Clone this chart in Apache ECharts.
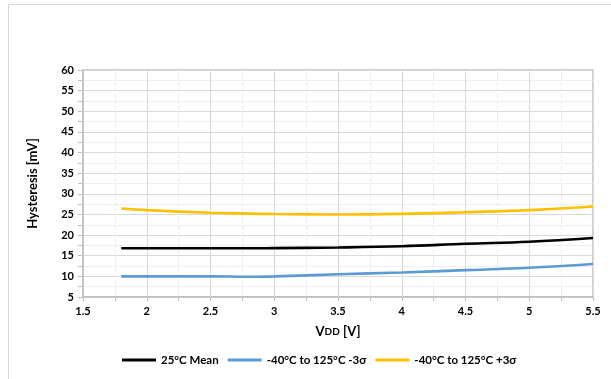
<!DOCTYPE html>
<html>
<head>
<meta charset="utf-8">
<script src="https://cdn.jsdelivr.net/npm/echarts@6/dist/echarts.min.js"></script>
<style>
  html, body { margin: 0; padding: 0; background: #fff; }
  #main { width: 611px; height: 379px; }
</style>
</head>
<body>
<div id="main"></div>
<script>
// x values (VDD, V)
var vdd = [1.8, 2, 2.5, 2.8, 3, 3.5, 4, 4.5, 5, 5.5];
// hysteresis (mV)
var mean25 = [16.8, 16.8, 16.8, 16.8, 16.85, 17.0, 17.3, 17.9, 18.4, 19.3];
var minus3s = [10.0, 10.0, 10.0, 9.9, 10.0, 10.5, 10.95, 11.5, 12.1, 13.0];
var plus3s = [26.45, 26.05, 25.4, 25.2, 25.1, 25.0, 25.15, 25.55, 26.05, 27.0];
var seriesNames = ['25°C Mean', '-40°C to 125°C -3σ', '-40°C to 125°C +3σ'];
var seriesColors = ['#000000', '#5B9BD5', '#FFC000'];

var myChart = echarts.init(document.getElementById('main'));

function pairs(ys) {
  var out = [];
  for (var i = 0; i < vdd.length; i++) {
    out.push([vdd[i], ys[i]]);
  }
  return out;
}

var font = 'Lato, "Open Sans", sans-serif';
var allData = [mean25, minus3s, plus3s];
var series = [];
for (var k = 0; k < allData.length; k++) {
  series.push({
    name: seriesNames[k],
    type: 'line',
    data: pairs(allData[k]),
    smooth: 0.4,
    showSymbol: false,
    lineStyle: { width: 2.6, color: seriesColors[k] },
    itemStyle: { color: seriesColors[k] }
  });
}

var option = {
  backgroundColor: '#fff',
  animation: false,
  // light frame round the whole chart
  graphic: [{
    type: 'rect',
    shape: { x: 8.5, y: 4.5, width: 700, height: 500 },
    style: { fill: 'none', stroke: '#d9d9d9', lineWidth: 1 },
    silent: true
  }],
  grid: {
    left: 83, right: 18, top: 70, bottom: 82,
    show: true, borderColor: '#bfbfbf', borderWidth: 1.5
  },
  legend: {
    bottom: 8,
    left: 117,
    icon: 'rect',
    itemWidth: 34,
    itemHeight: 3,
    itemGap: 9,
    textStyle: { fontFamily: font, fontWeight: 'bold', fontSize: 11.5, color: '#000' },
    data: seriesNames
  },
  xAxis: {
    type: 'value',
    min: 1.5, max: 5.5, interval: 0.5,
    name: 'V{s|DD} [V]',
    nameLocation: 'middle',
    nameGap: 28,
    nameTextStyle: {
      fontFamily: font, fontWeight: 'bold', fontSize: 13, color: '#000',
      rich: { s: { fontFamily: font, fontWeight: 'bold', fontSize: 10, color: '#000' } }
    },
    axisLine: { lineStyle: { color: '#bfbfbf', width: 1.5 } },
    axisTick: { show: true, length: 4, lineStyle: { color: '#bfbfbf' } },
    minorTick: { show: true, splitNumber: 2, length: 4, lineStyle: { color: '#bfbfbf' } },
    axisLabel: { fontFamily: font, fontWeight: 'bold', fontSize: 11, color: '#000', margin: 9 },
    splitLine: { show: true, lineStyle: { color: '#d9d9d9', width: 1 } },
    minorSplitLine: { show: true, lineStyle: { color: '#ececec', type: 'dashed', width: 1 } }
  },
  yAxis: {
    type: 'value',
    min: 5, max: 60, interval: 5,
    name: 'Hysteresis [mV]',
    nameLocation: 'middle',
    nameGap: 44,
    nameTextStyle: { fontFamily: font, fontWeight: 'bold', fontSize: 13, color: '#000' },
    axisLine: { show: true, lineStyle: { color: '#bfbfbf', width: 1.5 } },
    axisTick: { show: true, length: 5, lineStyle: { color: '#bfbfbf' } },
    minorTick: { show: true, splitNumber: 2, length: 5, lineStyle: { color: '#bfbfbf' } },
    axisLabel: { fontFamily: font, fontWeight: 'bold', fontSize: 11, color: '#000', margin: 9 },
    splitLine: { show: true, lineStyle: { color: '#d9d9d9', width: 1 } },
    minorSplitLine: { show: true, lineStyle: { color: '#efefef', width: 1 } }
  },
  series: series
};

myChart.setOption(option);
</script>
</body>
</html>
